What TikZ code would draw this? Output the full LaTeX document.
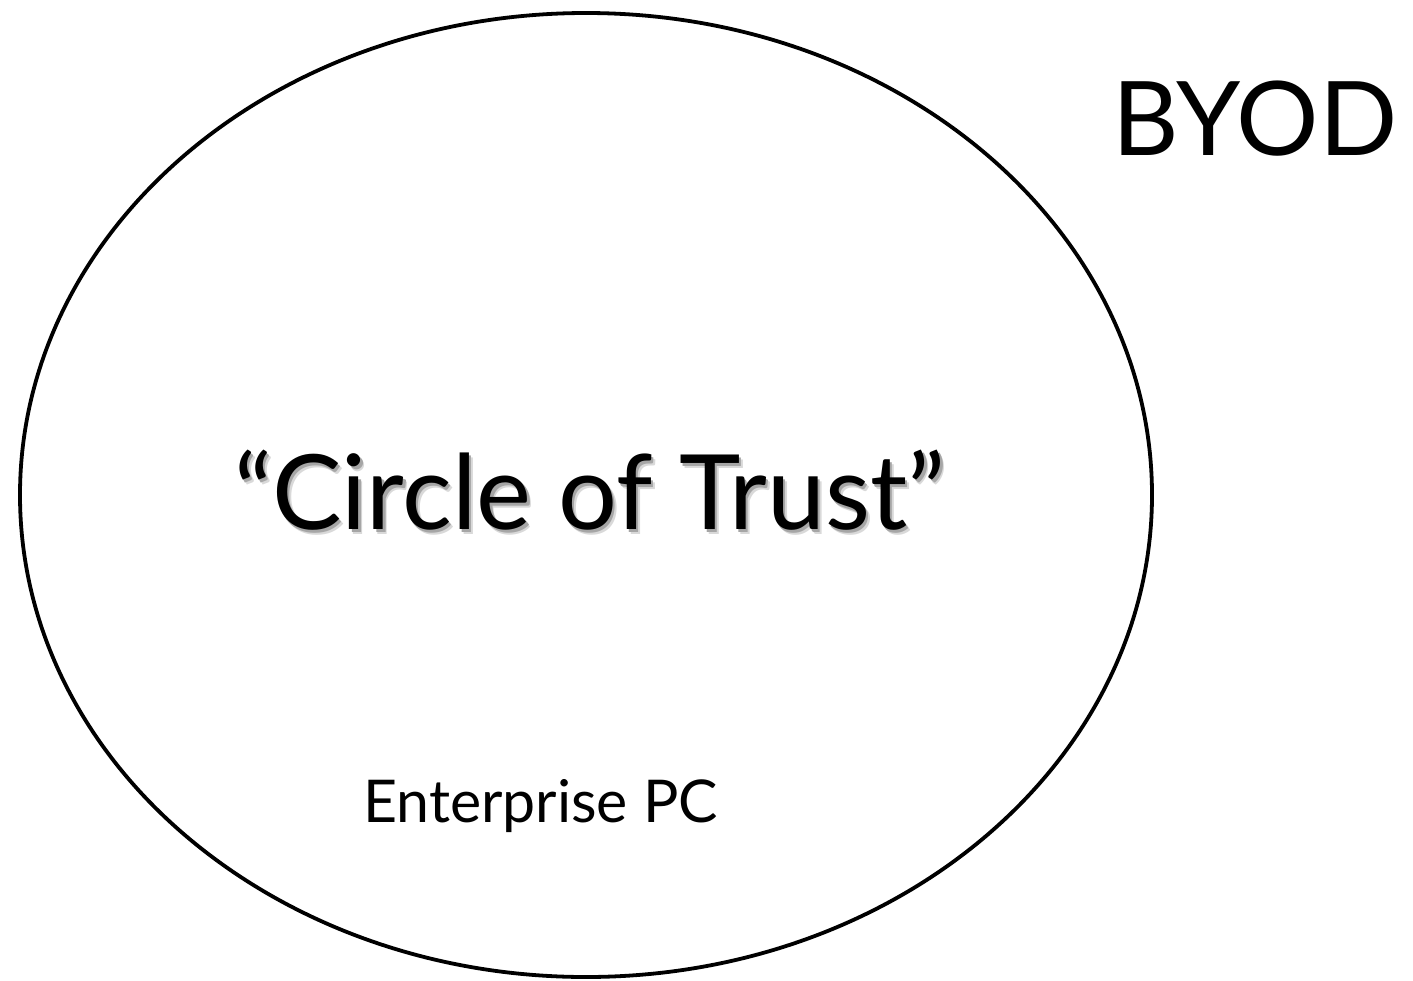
\documentclass[tikz,border=0pt]{standalone}
\usepackage{fontspec}
\setmainfont{Lato}
\newcommand{\shadowed}[1]{\makebox[0pt][l]{\hspace{4pt}\raisebox{-5pt}{\color{black!15}#1}}\makebox[0pt][l]{\hspace{2.5pt}\raisebox{-3pt}{\color{black!35}#1}}#1}
\begin{document}
\begin{tikzpicture}[x=1pt,y=-1pt,
  lbl/.style={inner sep=0pt,anchor=base west,font=\fontsize{#1}{#1}\selectfont}]
\useasboundingbox (0,0) rectangle (1413,980);
\draw[line width=3.8pt] (586,495) ellipse [x radius=566, y radius=482];
\node[lbl=104] (cot) at (234,529) {\shadowed{``Circle of Trust''}};
\node[lbl=103] (byod) at (1112,155) {BYOD};
\node[lbl=59] (epc) at (363,822) {Enterprise PC};
\end{tikzpicture}
\end{document}
